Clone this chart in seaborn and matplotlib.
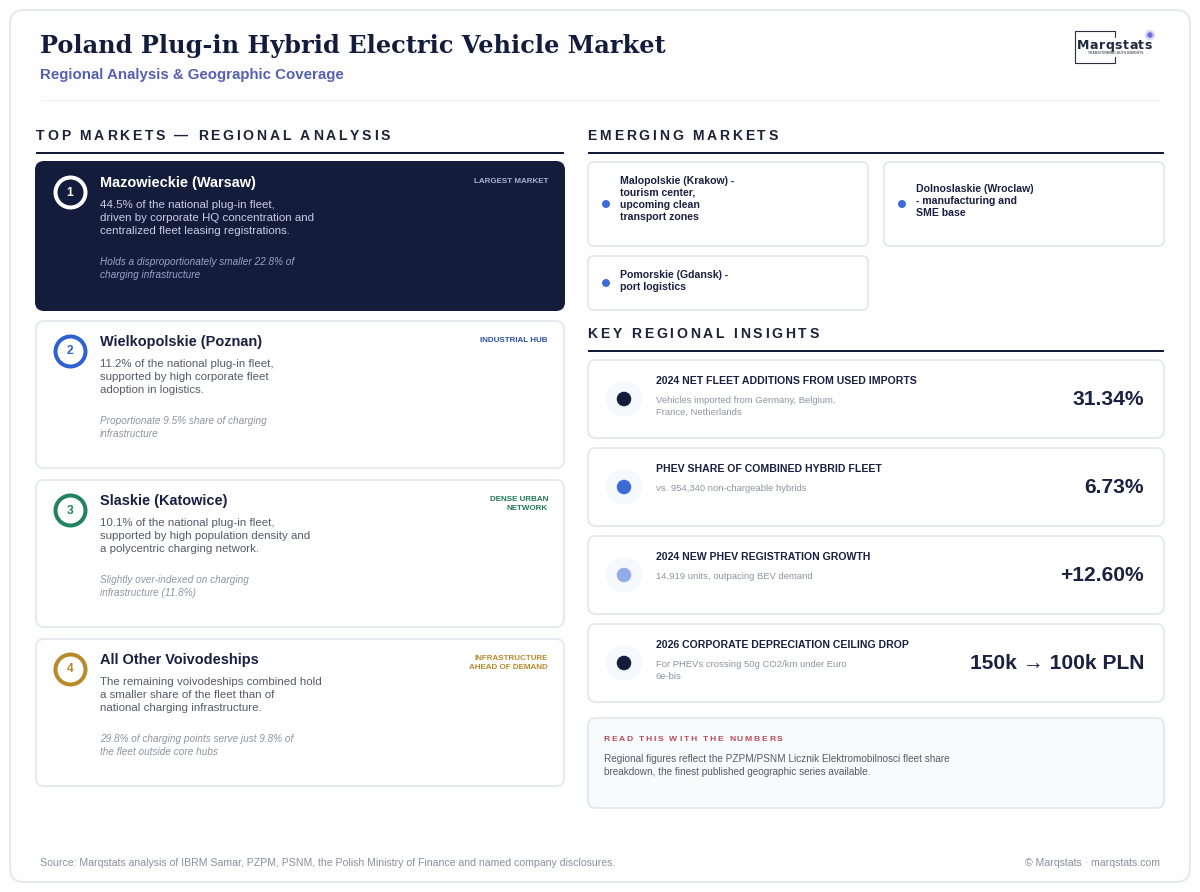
import matplotlib
matplotlib.use("Agg")
import matplotlib.pyplot as plt
import matplotlib.text as mtext
from matplotlib.patches import FancyBboxPatch
from matplotlib.transforms import Bbox, IdentityTransform
from matplotlib.font_manager import findfont, get_font
from matplotlib.ft2font import LoadFlags
import pandas as pd
import seaborn as sns

# ---------- content ----------
title = "Poland Plug-in Hybrid Electric Vehicle Market"
subtitle = "Regional Analysis & Geographic Coverage"
heading_left = "TOP MARKETS — REGIONAL ANALYSIS"
heading_emerging = "EMERGING MARKETS"
heading_insights = "KEY REGIONAL INSIGHTS"

market_ranks = ["1", "2", "3", "4"]
market_names = ["Mazowieckie (Warsaw)", "Wielkopolskie (Poznan)", "Slaskie (Katowice)", "All Other Voivodeships"]
market_bodies = [
    ["44.5% of the national plug-in fleet,", "driven by corporate HQ concentration and", "centralized fleet leasing registrations."],
    ["11.2% of the national plug-in fleet,", "supported by high corporate fleet", "adoption in logistics."],
    ["10.1% of the national plug-in fleet,", "supported by high population density and", "a polycentric charging network."],
    ["The remaining voivodeships combined hold", "a smaller share of the fleet than of", "national charging infrastructure."],
]
market_notes = [
    ["Holds a disproportionately smaller 22.8% of", "charging infrastructure"],
    ["Proportionate 9.5% share of charging", "infrastructure"],
    ["Slightly over-indexed on charging", "infrastructure (11.8%)"],
    ["29.8% of charging points serve just 9.8% of", "the fleet outside core hubs"],
]
market_tags = [["LARGEST MARKET"], ["INDUSTRIAL HUB"], ["DENSE URBAN", "NETWORK"], ["INFRASTRUCTURE", "AHEAD OF DEMAND"]]
market_colors = ["#ffffff", "#2f62d0", "#24835f", "#b98a2a"]
tag_colors = ["#a8b0d4", "#2c4fa8", "#1e7a55", "#b8892c"]

emerging_lines = [
    ["Malopolskie (Krakow) -", "tourism center,", "upcoming clean", "transport zones"],
    ["Dolnoslaskie (Wroclaw)", "- manufacturing and", "SME base"],
    ["Pomorskie (Gdansk) -", "port logistics"],
]

insight_titles = ["2024 NET FLEET ADDITIONS FROM USED IMPORTS", "PHEV SHARE OF COMBINED HYBRID FLEET",
                  "2024 NEW PHEV REGISTRATION GROWTH", "2026 CORPORATE DEPRECIATION CEILING DROP"]
insight_descs = [
    ["Vehicles imported from Germany, Belgium,", "France, Netherlands"],
    ["vs. 954,340 non-chargeable hybrids"],
    ["14,919 units, outpacing BEV demand"],
    ["For PHEVs crossing 50g CO2/km under Euro", "6e-bis"],
]
insight_values = ["31.34%", "6.73%", "+12.60%", "150k → 100k PLN"]
insight_dots = ["#141c3c", "#3f6bd8", "#93abe8", "#141c3c"]

note_head = "READ THIS WITH THE NUMBERS"
note_lines = ["Regional figures reflect the PZPM/PSNM Licznik Elektromobilnosci fleet share",
              "breakdown, the finest published geographic series available."]
source = "Source: Marqstats analysis of IBRM Samar, PZPM, PSNM, the Polish Ministry of Finance and named company disclosures."
copyright_text = "© Marqstats · marqstats.com"

# ---------- style ----------
NAVY = "#141c3c"
BORDER = "#e6eaee"
SANS = "Liberation Sans"
SERIF = "DejaVu Serif"

sns.set_theme(style="white")
plt.rcParams["font.family"] = [SANS, "DejaVu Sans"]

fig = plt.figure(figsize=(12, 8.92), dpi=100, facecolor="#fefefe")
ax = fig.add_axes([0, 0, 1, 1])
ax.set_xlim(0, 1200)
ax.set_ylim(892, 0)
ax.axis("off")


def pt(px):
    return px * 0.72


class SpacedText(mtext.Text):
    """One text object whose string is drawn with CSS-like letter spacing."""

    def __init__(self, *args, spacing=0.0, **kw):
        super().__init__(*args, **kw)
        self._spacing = spacing

    def _advances(self):
        font = get_font(findfont(self.get_fontproperties()))
        font.set_size(self.get_fontsize(), fig.dpi)
        return [font.load_char(ord(c), flags=LoadFlags.NO_HINTING).linearHoriAdvance / 65536 + self._spacing
                for c in self.get_text()]

    def draw(self, renderer):
        x, y = self.get_transform().transform(self.get_position())
        for c, adv in zip(self.get_text(), self._advances()):
            if c != " ":
                t = mtext.Text(x, y, c, fontproperties=self.get_fontproperties(), color=self.get_color(),
                               va=self.get_va(), ha="left", transform=IdentityTransform())
                t.set_figure(fig)
                t.draw(renderer)
            x += adv

    def get_window_extent(self, renderer=None, dpi=None):
        x, y = self.get_transform().transform(self.get_position())
        h = self.get_fontsize() / 0.72
        return Bbox.from_extents(x, y - h / 2, x + sum(self._advances()), y + h / 2)


def card(x0, y0, x1, y1, fc="#ffffff", ec=BORDER, lw=2.0, r=8, z=1):
    ax.add_patch(FancyBboxPatch((x0 + r, y0 + r), x1 - x0 - 2 * r, y1 - y0 - 2 * r,
                                boxstyle=f"round,pad={r},rounding_size={r}",
                                fc=fc, ec=ec, lw=lw * 0.72, zorder=z))


def label(x, y, s, px, color, weight="normal", style="normal", ha="left", family=SANS, z=5):
    ax.text(x, y, s, fontsize=pt(px), color=color, fontweight=weight, fontstyle=style,
            ha=ha, va="center_baseline", family=family, zorder=z)


def spaced(x, y, s, px, color, spacing, weight="bold", family=SANS):
    t = SpacedText(x, y, s, spacing=spacing, fontsize=pt(px), color=color, fontweight=weight,
                   family=family, va="center_baseline", ha="left", transform=ax.transData, zorder=5)
    t.set_clip_on(False)
    ax.add_artist(t)


def dots(xs, ys, diam, colors, edge="none", lw=0, z=4):
    df = pd.DataFrame({"x": xs, "y": ys, "c": range(len(xs))})
    sns.scatterplot(data=df, x="x", y="y", hue="c", palette=list(colors), s=pt(diam) ** 2, legend=False,
                    edgecolor=edge, linewidth=lw, ax=ax, zorder=z)
    ax.set_xlim(0, 1200)
    ax.set_ylim(892, 0)
    ax.axis("off")


def rule(x0, x1, y, color, lw):
    ax.plot([x0, x1], [y, y], color=color, lw=lw * 0.72, solid_capstyle="butt", zorder=3)


# ---------- frame + header ----------
card(10, 10, 1190, 882, fc="#fefefe", ec=BORDER, lw=2.0, r=14, z=0)
label(40, 43.5, title, 24, NAVY, weight="bold", family=SERIF)
label(40, 73.5, subtitle, 15, "#5560b0", weight="bold")
rule(40, 1160, 100, "#eef0f3", 1)

# logo
ax.plot([1115, 1115, 1074.5, 1074.5, 1115, 1115], [37, 31, 31, 63, 63, 57], color="#2a3040", lw=0.8, zorder=4)
spaced(1077, 44, "Marqstats", 12.5, "#20283f", 0.45, weight="bold", family="DejaVu Sans")
label(1115.5, 53, "TRANSFORMING AUTO INSIGHTS", 3.4, "#555b6b", weight="bold", ha="center")
dots([1150], [35], 10, ["#d5d6f5"], z=4)
dots([1150], [35], 5.5, ["#6b6fd6"], z=5)

# ---------- left column ----------
spaced(36, 134, heading_left, 14, "#1c2238", 2.72)
rule(36, 564, 153, NAVY, 2)

card_tops = [162, 321, 480, 639]
card_bottoms = [310, 468, 627, 786]
for i, top in enumerate(card_tops):
    dark = i == 0
    card(36, top, 564, card_bottoms[i], fc=NAVY if dark else "#ffffff", ec=NAVY if dark else BORDER, r=8)
    label(100, top + 19.7, market_names[i], 14.5, "#ffffff" if dark else "#1a2040", weight="bold")
    for j, line in enumerate(market_bodies[i]):
        label(100, top + 42 + 13 * j, line, 11.5, "#c9cee6" if dark else "#555b6b")
    for j, line in enumerate(market_notes[i]):
        label(100, top + 99.2 + 13 * j, line, 10, "#9aa2cc" if dark else "#8f94a3", style="italic")
    for j, line in enumerate(market_tags[i]):
        label(548, top + 18.5 + 9 * j, line, 8, tag_colors[i], weight="bold", ha="right")
    y_ring = top + (30 if dark else 29.5)
    dots([70], [y_ring], 30, [NAVY if dark else "#ffffff"], edge=market_colors[i], lw=pt(4))
    label(70, y_ring - 0.5, market_ranks[i], 12, market_colors[i], weight="bold", ha="center")

# ---------- emerging markets ----------
spaced(587.5, 134, heading_emerging, 14, "#1c2238", 2.72)
rule(588, 1164, 153, NAVY, 2)

em_boxes = [(588, 162, 868, 246), (884, 162, 1164, 246), (588, 256, 868, 310)]
em_first_line = [179.7, 187.7, 273.7]
em_dot_y = [204, 204, 283]
for i, (x0, y0, x1, y1) in enumerate(em_boxes):
    card(x0, y0, x1, y1, r=6)
    for j, line in enumerate(emerging_lines[i]):
        label(x0 + 32, em_first_line[i] + 12.2 * j, line, 10.5, "#1a2040", weight="bold")
    dots([x0 + 18], [em_dot_y[i]], 8, ["#3f6bd8"])

# ---------- insights ----------
spaced(587.5, 332, heading_insights, 14, "#1c2238", 2.72)
rule(588, 1164, 351, NAVY, 2)

ins_tops = [360, 448, 536, 624]
for i, top in enumerate(ins_tops):
    card(588, top, 1164, top + 78, r=8)
    label(656, top + 20, insight_titles[i], 10.5, "#1a2040", weight="bold")
    for j, line in enumerate(insight_descs[i]):
        label(656, top + 39.7 + 12 * j, line, 9.5, "#8f94a3")
    label(1144, top + 37.7, insight_values[i], 21, "#1a2040", weight="bold", ha="right")
    dots([624], [top + 39], 36, ["#f5f8fc"], z=3)
    dots([624], [top + 39], 14.5, [insight_dots[i]], z=4)

# ---------- note ----------
card(588, 718, 1164, 808, fc="#f8fafc", r=8)
spaced(603.5, 738.2, note_head, 8.5, "#b84a5a", 1.78)
for j, line in enumerate(note_lines):
    label(604, 758 + 13 * j, line, 10, "#555b6b")

# ---------- footer ----------
label(40, 862.5, source, 10.5, "#8a90a0")
label(1160, 862.5, copyright_text, 10.5, "#8a90a0", ha="right")

fig.savefig("out.png", dpi=100, facecolor=fig.get_facecolor())
